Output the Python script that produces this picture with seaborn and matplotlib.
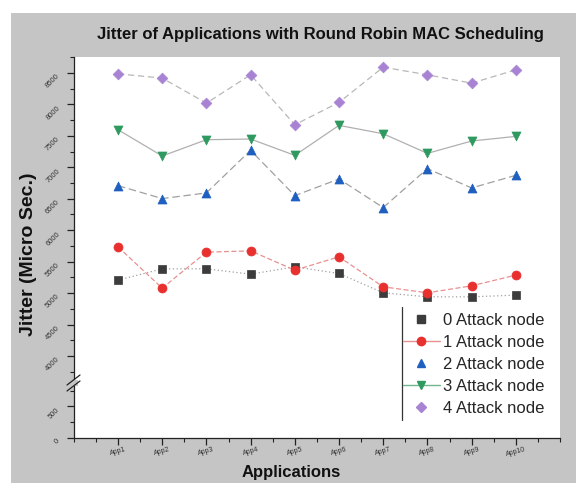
import numpy as np
import pandas as pd
import matplotlib
matplotlib.use("Agg")
import matplotlib.pyplot as plt
from matplotlib.lines import Line2D
from matplotlib.patches import Rectangle
from matplotlib.ticker import MultipleLocator
import seaborn as sns

apps = ["App1", "App2", "App3", "App4", "App5", "App6", "App7", "App8", "App9", "App10"]
series_names = ["0 Attack node", "1 Attack node", "2 Attack node", "3 Attack node", "4 Attack node"]
node0 = [5206, 5386, 5386, 5302, 5418, 5312, 5005, 4941, 4941, 4968]
node1 = [5735, 5079, 5651, 5672, 5365, 5577, 5100, 5005, 5116, 5286]
node2 = [6709, 6503, 6593, 7270, 6550, 6815, 6360, 6979, 6672, 6873]
node3 = [7598, 7180, 7439, 7450, 7190, 7667, 7534, 7222, 7418, 7492]
node4 = [8487, 8418, 8021, 8471, 7677, 8032, 8592, 8471, 8338, 8550]

y_top_ticks = [4000, 4500, 5000, 5500, 6000, 6500, 7000, 7500, 8000, 8500]
y_bot_ticks = [0, 500]

colors = ["#3c3c3c", "#e8302f", "#1f5fc0", "#2f9a5f", "#a883d3"]
markers = ["s", "o", "^", "v", "D"]
msizes = [30, 42, 42, 42, 30]
line_colors = ["#a0a0a0", "#e89090", "#a0a0a0", "#b0b0b0", "#b8b8b8"]
line_dash = [(1, 2), (4, 2), (6, 3), None, (5, 3)]

rows = []
for name, vals in zip(series_names, [node0, node1, node2, node3, node4]):
    for i, v in enumerate(vals):
        rows.append({"series": name, "x": i + 1, "app": apps[i], "jitter": v})
df = pd.DataFrame(rows)

sns.set_style("white")
plt.rcParams["font.family"] = ["Liberation Sans", "DejaVu Sans"]

W, H = 584, 490
GRAY = "#c5c5c5"
fig = plt.figure(figsize=(W / 100, H / 100), dpi=100)
fig.patch.set_facecolor("white")
fig.patches.append(Rectangle((11 / W, 1 - 483 / H), (576 - 11) / W, (483 - 13) / H,
                             transform=fig.transFigure, facecolor=GRAY,
                             edgecolor="none", zorder=-10))

left = 73.8 / W
width = (560 - 73.8) / W
ax_top = fig.add_axes([left, (H - 383) / H, width, (383 - 57) / H])
ax_bot = fig.add_axes([left, (H - 438) / H, width, (438 - 383) / H])

for ax in (ax_top, ax_bot):
    for i, name in enumerate(series_names):
        sub = df[df["series"] == name]
        sns.lineplot(data=sub, x="x", y="jitter", ax=ax, color=line_colors[i],
                     lw=0.9, legend=False, zorder=2)
        l = ax.lines[-1]
        if line_dash[i] is not None:
            l.set_dashes(line_dash[i])
        sns.scatterplot(data=sub, x="x", y="jitter", ax=ax, color=colors[i],
                        marker=markers[i], s=msizes[i], edgecolor=colors[i],
                        linewidth=0.5, legend=False, zorder=3)
    ax.set_facecolor("white")
    ax.set_xlim(0, 11)
    ax.set_xlabel("")
    ax.set_ylabel("")
    ax.spines["right"].set_visible(False)
    ax.spines["top"].set_visible(False)
    ax.spines["left"].set_color("#222222")
    ax.spines["bottom"].set_color("#222222")
    ax.spines["left"].set_linewidth(0.9)
    ax.spines["bottom"].set_linewidth(0.9)

ax_top.set_ylim(3571, 8754)
ax_bot.set_ylim(0, 873)
ax_top.spines["bottom"].set_visible(False)

ax_top.set_yticks(y_top_ticks)
ax_top.set_yticklabels([str(t) for t in y_top_ticks], rotation=45, fontsize=5.5,
                       color="#333333", va="top", ha="right")
ax_top.yaxis.set_minor_locator(MultipleLocator(250))
ax_bot.set_yticks(y_bot_ticks)
ax_bot.set_yticklabels([str(t) for t in y_bot_ticks], rotation=45, fontsize=5.5,
                       color="#333333", va="top", ha="right")
ax_bot.yaxis.set_minor_locator(MultipleLocator(250))

ax_top.tick_params(axis="x", which="both", bottom=False, labelbottom=False)
ax_bot.set_xticks(range(1, 11))
ax_bot.set_xticklabels(apps, rotation=15, fontsize=5, color="#333333")
ax_bot.xaxis.set_minor_locator(MultipleLocator(0.5))

for ax in (ax_top, ax_bot):
    ax.tick_params(axis="y", which="major", direction="out", length=5, width=0.9, left=True, color="#222222", pad=4)
    ax.tick_params(axis="y", which="minor", direction="out", length=3, width=0.8, left=True, color="#222222")
ax_bot.tick_params(axis="x", which="major", direction="out", length=5, width=0.9, bottom=True, color="#222222", pad=0.5)
ax_bot.tick_params(axis="x", which="minor", direction="out", length=3, width=0.8, bottom=True, color="#222222")

# axis break marks
fig.add_artist(Rectangle((69 / W, 1 - 386 / H), 9 / W, 6 / H, transform=fig.transFigure,
                         facecolor=GRAY, edgecolor="none", zorder=5))
for dy in (-3, 3):
    fig.add_artist(Line2D([67 / W, 80 / W],
                          [1 - (383 + dy + 5) / H, 1 - (383 + dy - 5) / H],
                          transform=fig.transFigure, color="#222222", lw=0.9, zorder=6))

fig.text(320 / W, 1 - 35 / H, "Jitter of Applications with Round Robin MAC Scheduling",
         ha="center", va="center", fontsize=12, fontweight="bold", color="#111111")
fig.text(291 / W, 1 - 472 / H, "Applications", ha="center", va="center",
         fontsize=12, fontweight="bold", color="#111111")
fig.text(29 / W, 1 - 254 / H, "Jitter (Micro Sec.)", ha="center", va="center",
         rotation=90, fontsize=14, fontweight="bold", color="#111111")

handles = []
for i, name in enumerate(series_names):
    show_line = i in (1, 3)
    handles.append(Line2D([], [], color=line_colors[i] if i != 3 else "#6fb58e",
                          lw=1.0 if show_line else 0,
                          marker=markers[i], markersize=6 if markers[i] != "D" else 5,
                          markerfacecolor=colors[i], markeredgecolor=colors[i]))
fig.legend(handles=handles, labels=series_names, loc="upper left",
           bbox_to_anchor=(403 / W, 1 - 313 / H), frameon=False, fontsize=12,
           handlelength=2.2, handletextpad=0.2, labelspacing=0.42, borderaxespad=0,
           borderpad=0)
fig.add_artist(Line2D([402 / W, 402 / W], [1 - 307 / H, 1 - 420 / H],
                      transform=fig.transFigure, color="#333333", lw=0.9))

fig.savefig("out.png", dpi=100)
